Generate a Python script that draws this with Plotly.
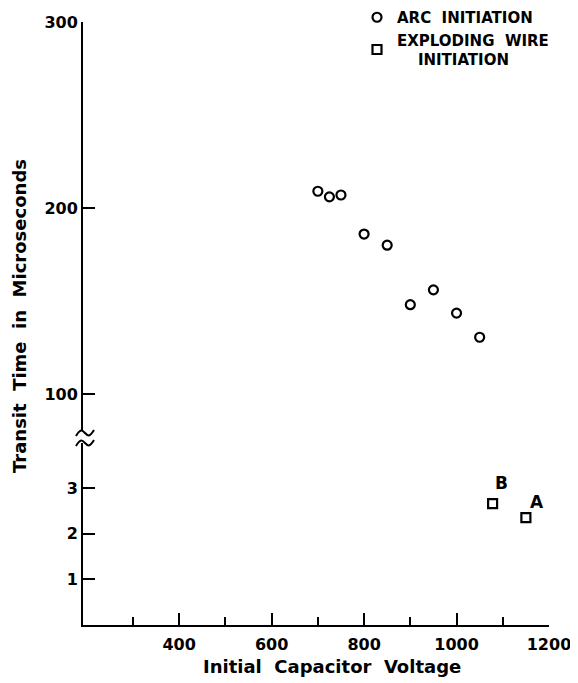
import plotly.graph_objects as go

# Data
arc_voltage = [700, 725, 750, 800, 850, 900, 950, 1000, 1050]
arc_time = [209, 206, 207, 186, 180, 148, 156, 143.5, 130.5]

wire_voltage = [1150, 1078]
wire_time = [2.35, 2.66]
wire_labels = ["A", "B"]

x_ticks = [400, 600, 800, 1000, 1200]
x_minor = [300, 500, 700, 900, 1100]
upper_ticks = [100, 200, 300]
lower_ticks = [1, 2, 3]

FONT = "DejaVu Sans"
OFF = 8  # page body margin
W, H = 578 - OFF, 683 - OFF
ML, MR, MT, MB = 83 - OFF, 29, 22 - OFF, 58
PW, PH = W - ML - MR, H - MT - MB

def py(pix):  # page pixel row -> paper y
    return (H - MB - (pix - OFF)) / PH

def px(pix):  # page pixel col -> paper x
    return ((pix - OFF) - ML) / PW

fig = go.Figure()
fig.add_trace(go.Scatter(
    x=arc_voltage, y=arc_time, mode="markers", name="ARC  INITIATION",
    xaxis="x", yaxis="y2",
    marker=dict(symbol="circle-open", size=9, color="black", line=dict(width=2.2, color="black")),
))
fig.add_trace(go.Scatter(
    x=wire_voltage, y=wire_time, mode="markers", name="EXPLODING  WIRE<br>    INITIATION",
    xaxis="x", yaxis="y",
    marker=dict(symbol="square-open", size=9, color="black", line=dict(width=2.2, color="black")),
))

shifts = {"A": (11, 16), "B": (9, 21)}
for v, t, lab in zip(wire_voltage, wire_time, wire_labels):
    fig.add_annotation(x=v, y=t, xref="x", yref="y", text=lab, showarrow=False,
                       xshift=shifts[lab][0], yshift=shifts[lab][1],
                       font=dict(family=FONT, size=17, color="black", weight="bold"))

# break squiggles
sq_x0, sq_x1 = px(76), px(94)
for yy in (433, 443):
    y0 = py(yy)
    dy = 3 / PH
    xm = (sq_x0 + sq_x1) / 2
    path = (f"M {sq_x0},{y0 - dy} C {sq_x0 + (xm - sq_x0) * 0.5},{y0 + dy * 1.5} "
            f"{xm - (xm - sq_x0) * 0.3},{y0 + dy} {xm},{y0} "
            f"S {sq_x1 - (sq_x1 - xm) * 0.5},{y0 - dy * 1.5} {sq_x1},{y0 + dy}")
    fig.add_shape(type="path", path=path, xref="paper", yref="paper",
                  line=dict(color="black", width=2))

fig.add_annotation(x=px(19), y=py(316), xref="paper", yref="paper",
                   text="Transit  Time  in  Microseconds", textangle=-90, showarrow=False,
                   xanchor="center", yanchor="middle",
                   font=dict(family=FONT, size=18, color="black", weight="bold"))
fig.add_annotation(x=px(332), y=py(667), xref="paper", yref="paper",
                   text="Initial  Capacitor  Voltage", showarrow=False,
                   xanchor="center", yanchor="middle",
                   font=dict(family=FONT, size=18, color="black", weight="bold"))

axis_common = dict(showgrid=False, zeroline=False, showline=True, linecolor="black",
                   linewidth=2, ticks="inside", tickcolor="black", tickwidth=2,
                   tickfont=dict(family=FONT, size=16, color="black", weight="bold"))

upper_bottom = 300 - (300 - 100) * (431 - 22) / (394 - 22)
lower_top = 3 * (625 - 443) / (625 - 488)

fig.update_layout(
    width=W, height=H,
    margin=dict(l=ML, r=MR, t=MT, b=MB, autoexpand=False),
    paper_bgcolor="white", plot_bgcolor="white",
    showlegend=True,
    legend=dict(x=px(357), y=py(1), xanchor="left", yanchor="top",
                font=dict(family=FONT, size=15, color="black", weight="bold"),
                bgcolor="rgba(0,0,0,0)", tracegroupgap=1, itemwidth=30),
    xaxis=dict(**axis_common, range=[192, 1200], tickvals=x_ticks, ticklen=12,
               anchor="y", ticklabelstandoff=4,
               minor=dict(tickvals=x_minor, ticklen=8, ticks="inside", tickcolor="black", tickwidth=2)),
    yaxis=dict(**axis_common, range=[0, lower_top], tickvals=lower_ticks, ticklen=12,
               domain=[0, py(443)], anchor="x"),
    yaxis2=dict(**axis_common, range=[upper_bottom, 300], tickvals=upper_ticks, ticklen=12,
                domain=[py(431), 1], anchor="x"),
)

fig.write_html("out.html")
